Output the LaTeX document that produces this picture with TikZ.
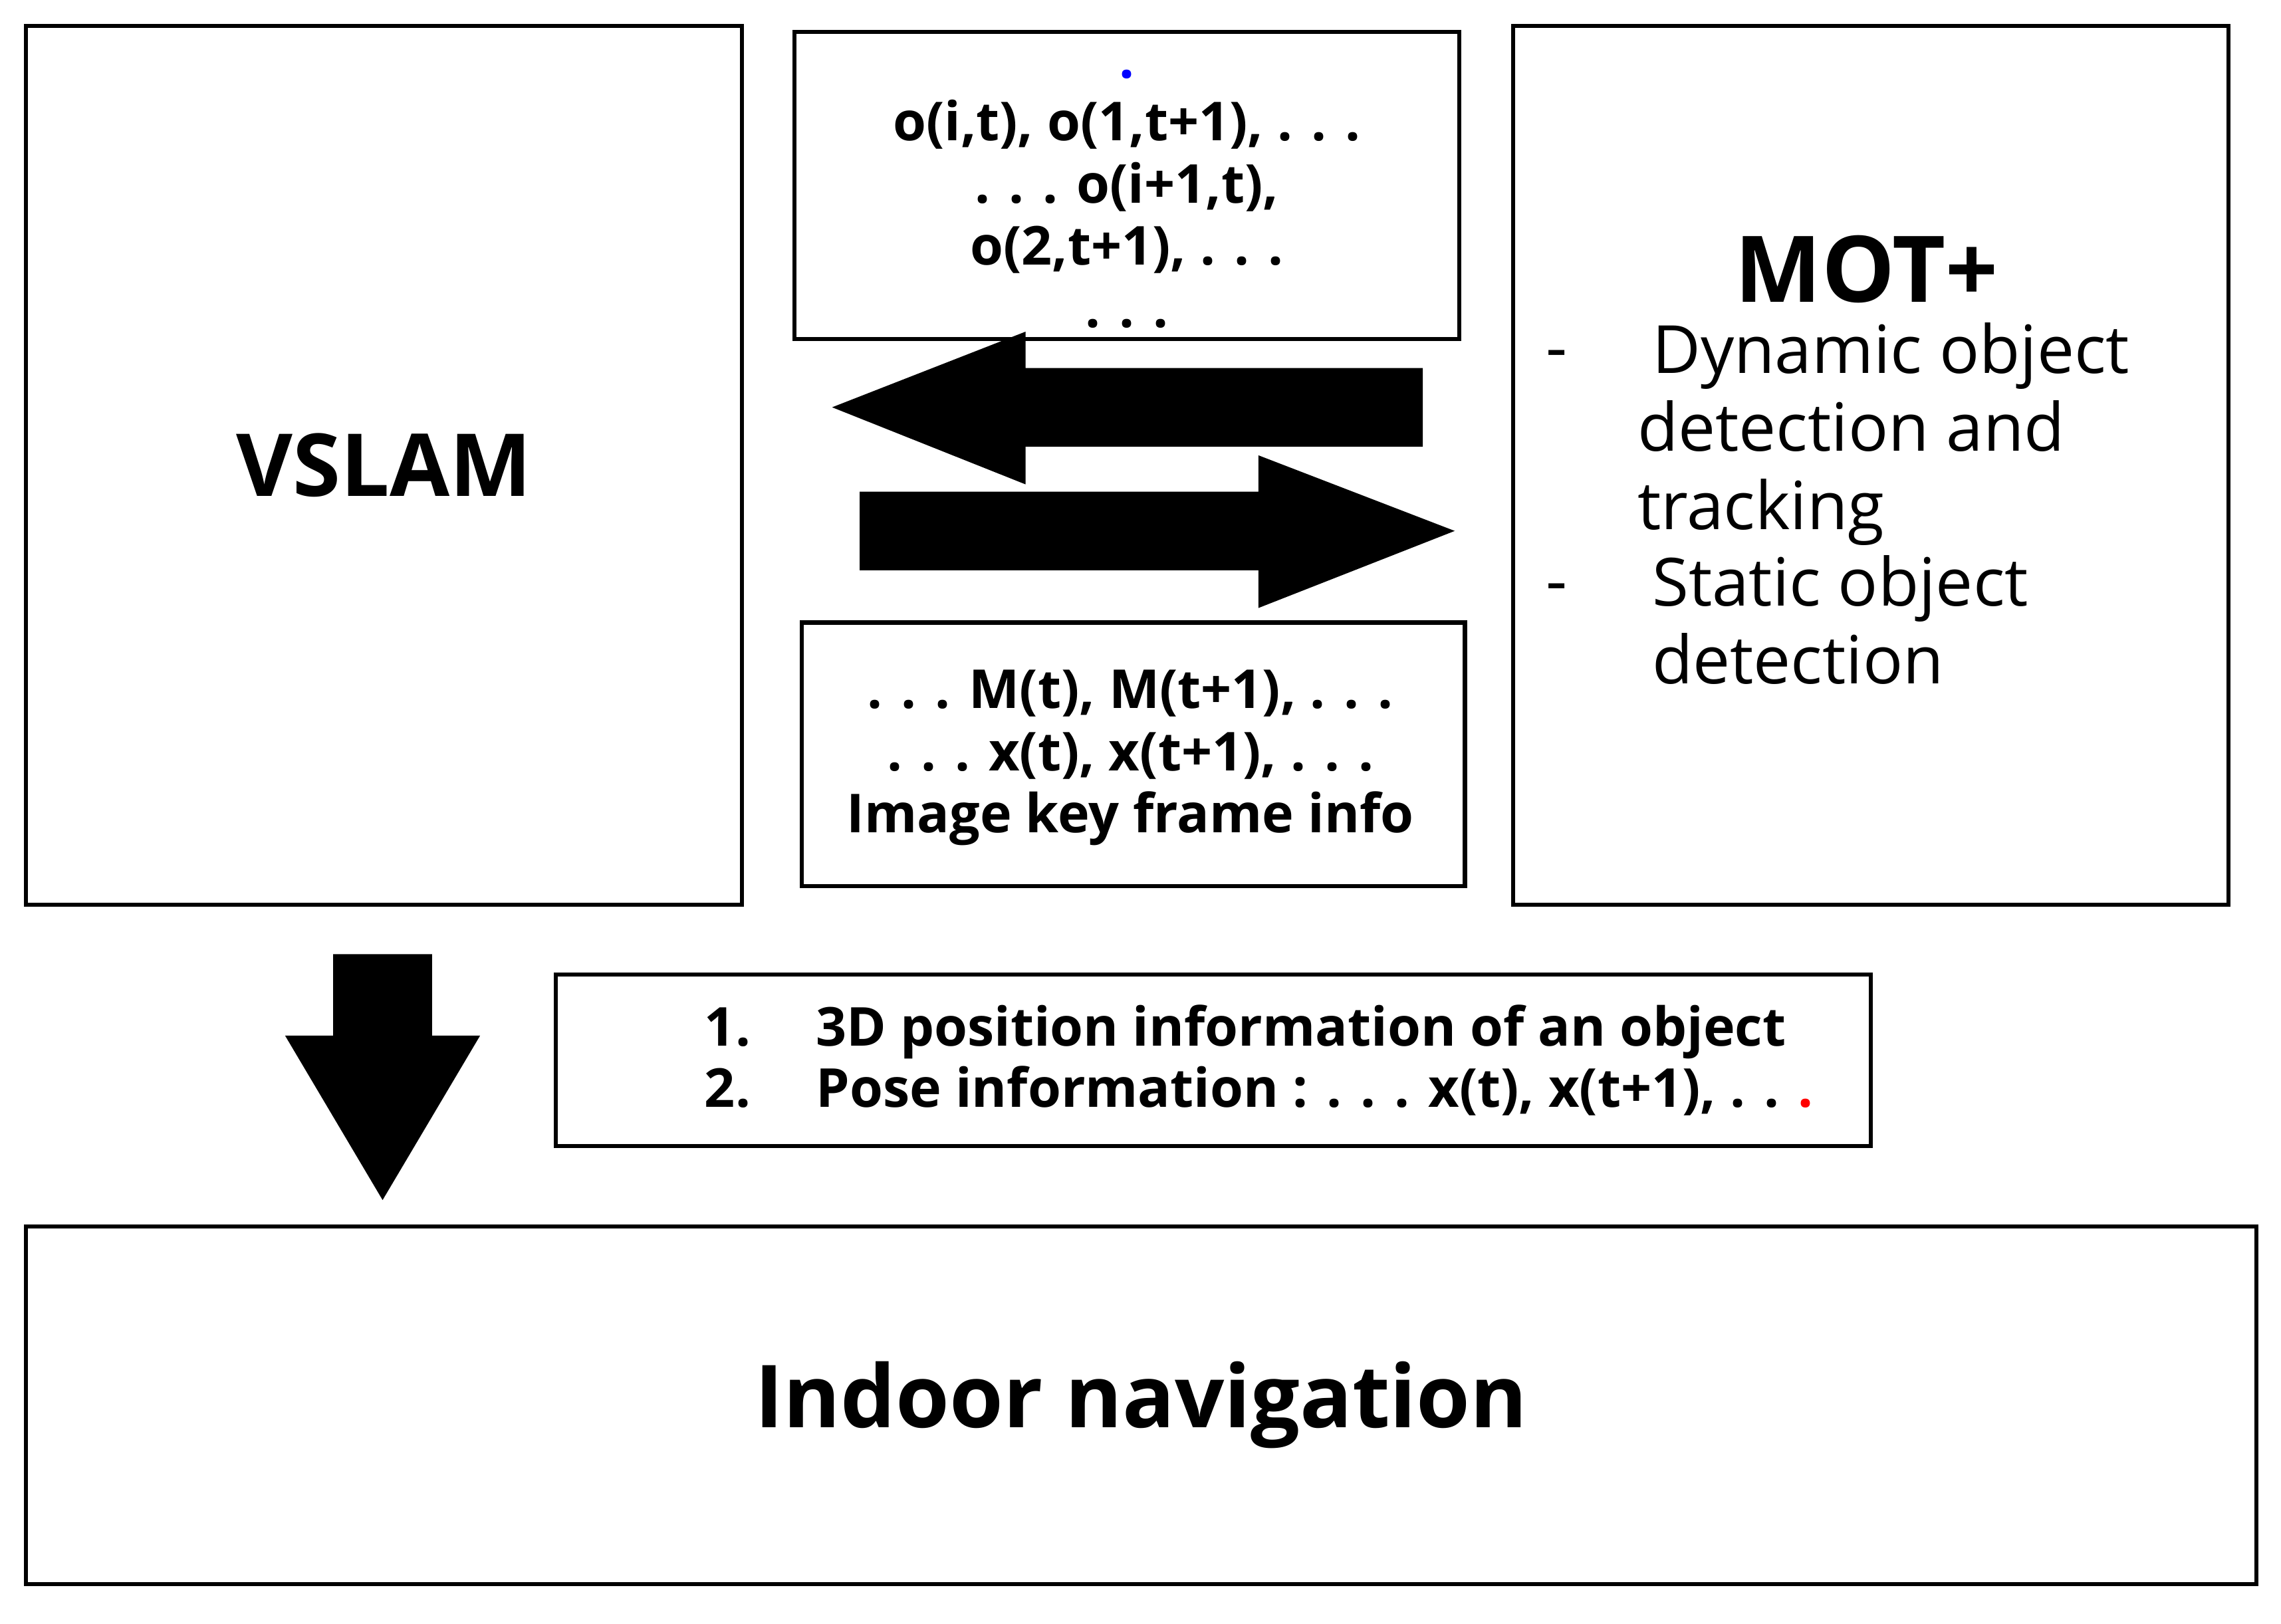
\documentclass[tikz,border=0pt]{standalone}
\usepackage{fontspec}
\setmainfont{Open Sans}
\usetikzlibrary{positioning}

\begin{document}
\begin{tikzpicture}[
    box/.style={rectangle, draw=black, thick, align=center, inner sep=0pt},
    info/.style={align=center, font=\bfseries\fontsize{10.5}{12.2}\selectfont},
    blockarrow/.style={fill=black}
]
\useasboundingbox (0,0) rectangle (15.68,11.16);

% Main blocks
\node[box, minimum width=4.92cm, minimum height=6.04cm, font=\bfseries\fontsize{17}{20}\selectfont] (vslam) at (2.64,7.96) {VSLAM};
\node[box, minimum width=4.92cm, minimum height=6.04cm] (mot) at (12.86,7.96) {};
\node[box, minimum width=15.33cm, minimum height=2.46cm, font=\bfseries\fontsize{17}{20}\selectfont] (nav) at (7.845,1.5) {Indoor navigation};

% Exchanged data
\node[box, minimum width=4.57cm, minimum height=2.11cm] (objects) at (7.745,9.885) {};
\node[info, below=0.15cm of objects.north] (objtext) {\textcolor{blue}{.}\\o(i,t), o(1,t+1), . . .\\. . . o(i+1,t),\\o(2,t+1), . . .\\. . .};
\node[box, minimum width=4.56cm, minimum height=1.81cm] (maps) at (7.79,5.975) {};
\node[info, font=\bfseries\fontsize{10.5}{12.2}\selectfont] (maptext) at (7.77,5.95) {. . . M(t), M(t+1), . . .\\. . . x(t), x(t+1), . . .\\Image key frame info};

% MOT+ contents
\node[font=\bfseries\fontsize{18}{20}\selectfont] (mottitle) at (12.83,9.31) {MOT+};
\node[font=\fontsize{13}{15}\selectfont] (dash1) at (10.70,8.68) {-};
\node[font=\fontsize{13}{15}\selectfont] (dash2) at (10.70,7.08) {-};
\node[anchor=north west, align=left, inner sep=0pt, font=\fontsize{13}{15.3}\selectfont] (dyn) at (11.25,8.95) {\hspace{0.1cm}Dynamic object\\detection and\\tracking};
\node[anchor=north west, align=left, inner sep=0pt, font=\fontsize{13}{15.3}\selectfont] (stat) at (11.35,7.35) {Static object\\detection};

% Output list
\node[box, minimum width=9.04cm, minimum height=1.18cm] (output) at (8.34,3.87) {};
\node[anchor=west, align=left, font=\bfseries\fontsize{10.5}{12}\selectfont] (outtext) at (4.72,3.87) {1.\hspace{0.45cm}3D position information of an object\\2.\hspace{0.45cm}Pose information : . . . x(t), x(t+1), . . \textcolor{red}{.}};

% Block arrows
\fill[blockarrow] (5.72,8.36) -- (7.05,8.88) -- (7.05,8.63) -- (9.78,8.63) -- (9.78,8.09) -- (7.05,8.09) -- (7.05,7.83) -- cycle;
\fill[blockarrow] (10.00,7.51) -- (8.65,8.03) -- (8.65,7.78) -- (5.91,7.78) -- (5.91,7.24) -- (8.65,7.24) -- (8.65,6.98) -- cycle;
\fill[blockarrow] (2.63,2.91) -- (1.96,4.04) -- (2.29,4.04) -- (2.29,4.60) -- (2.97,4.60) -- (2.97,4.04) -- (3.30,4.04) -- cycle;

\end{tikzpicture}
\end{document}
